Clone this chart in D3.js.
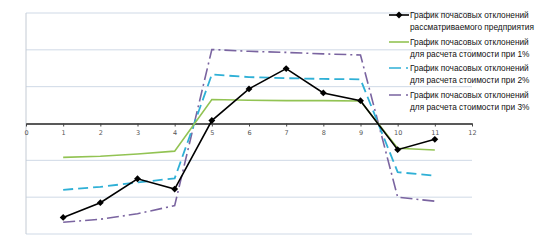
<!DOCTYPE html>
<html>
<head>
<meta charset="utf-8">
<script src="https://cdn.jsdelivr.net/npm/d3@7"></script>
<style>
  body { margin: 0; background: #fff; }
  svg { display: block; font-family: "Liberation Sans", Arial, sans-serif; }
</style>
</head>
<body>
<svg id="drawing_region"></svg>
<script>
// hours 1..11
const hours = [1, 2, 3, 4, 5, 6, 7, 8, 9, 10, 11];
const enterprise = [-2.55, -2.15, -1.5, -1.78, 0.08, 0.94, 1.49, 0.83, 0.62, -0.71, -0.43];
const cost1 = [-0.92, -0.89, -0.83, -0.75, 0.65, 0.63, 0.62, 0.62, 0.61, -0.67, -0.72];
const cost2 = [-1.8, -1.72, -1.6, -1.49, 1.33, 1.26, 1.23, 1.21, 1.2, -1.32, -1.42];
const cost3 = [-2.68, -2.6, -2.45, -2.23, 2.01, 1.96, 1.93, 1.89, 1.86, -2.0, -2.11];
const xTicks = [0, 1, 2, 3, 4, 5, 6, 7, 8, 9, 10, 11, 12];
const yTicks = [-3, -2, -1, 0, 1, 2, 3];
const seriesNames = [
    ["График почасовых отклонений", "рассматриваемого предприятия"],
    ["График почасовых отклонений", "для расчета стоимости при 1%"],
    ["График почасовых отклонений", "для расчета стоимости при 2%"],
    ["График почасовых отклонений", "для расчета стоимости при 3%"]
];

const config = {
    width: 542,
    height: 247,
    margin: {top: 13, right: 70, bottom: 13, left: 26}
};

const svg = d3.select('#drawing_region')
    .attr('width', config.width)
    .attr('height', config.height);

const chart = svg.append('g')
    .attr('transform', `translate(${config.margin.left}, ${config.margin.top})`);

const inner_width = 472 - config.margin.left;
const inner_height = 234 - config.margin.top;

const xscale = d3.scaleLinear().domain([0, 12]).range([0, inner_width]);
const yscale = d3.scaleLinear().domain([-3, 3]).range([inner_height, 0]);

// horizontal gridlines
chart.append('g')
    .selectAll('line')
    .data(yTicks.filter(d => d !== 0))
    .join('line')
    .attr('x1', 0)
    .attr('x2', inner_width)
    .attr('y1', d => yscale(d))
    .attr('y2', d => yscale(d))
    .attr('stroke', '#cfd9e6')
    .attr('stroke-width', 1);

// vertical axis line
chart.append('line')
    .attr('x1', 0).attr('x2', 0)
    .attr('y1', yscale(3)).attr('y2', yscale(-3))
    .attr('stroke', '#c4cbd4');

// x axis at zero
const xaxis = d3.axisBottom(xscale)
    .tickValues(xTicks)
    .tickSize(3)
    .tickSizeOuter(0)
    .tickPadding(4)
    .tickFormat(d3.format('d'));

const xaxis_group = chart.append('g')
    .attr('transform', `translate(0, ${yscale(0)})`)
    .call(xaxis);

xaxis_group.select('.domain').attr('stroke', '#222').attr('stroke-width', 1.3);
xaxis_group.selectAll('.tick line').attr('stroke', '#444');
xaxis_group.selectAll('.tick text')
    .attr('fill', '#555')
    .style('font-family', '"DejaVu Sans", sans-serif')
    .style('font-size', '6.5px');

const line = d3.line()
    .x((d, i) => xscale(hours[i]))
    .y(d => yscale(d));

const series = [
    {values: cost3, color: '#7a64a0', dash: '12,4,2,4', width: 1.6},
    {values: cost2, color: '#2fb0d6', dash: '10,5', width: 1.8},
    {values: cost1, color: '#92c353', dash: null, width: 1.6},
    {values: enterprise, color: '#000', dash: null, width: 1.6}
];

series.forEach(s => {
    chart.append('path')
        .datum(s.values)
        .attr('fill', 'none')
        .attr('stroke', s.color)
        .attr('stroke-width', s.width)
        .attr('stroke-dasharray', s.dash)
        .attr('d', line);
});

// diamond markers for enterprise
chart.selectAll('.marker')
    .data(enterprise)
    .join('path')
    .attr('class', 'marker')
    .attr('transform', (d, i) => `translate(${xscale(hours[i])}, ${yscale(d)})`)
    .attr('d', d3.symbol().type(d3.symbolDiamond2).size(30))
    .attr('fill', '#000');

// legend
const legendItems = [
    {color: '#000', dash: null, marker: true},
    {color: '#92c353', dash: null, marker: false},
    {color: '#2fb0d6', dash: '12,5,2,20', marker: false},
    {color: '#7a64a0', dash: '12,5,2,20', marker: false}
];
const legendY = [15, 42, 68, 95];

const legend = svg.append('g');
legendItems.forEach((item, i) => {
    const g = legend.append('g').attr('transform', `translate(0, ${legendY[i]})`);
    g.append('line')
        .attr('x1', 389).attr('x2', 409)
        .attr('y1', 0).attr('y2', 0)
        .attr('stroke', item.color)
        .attr('stroke-width', 1.6)
        .attr('stroke-dasharray', item.dash);
    if (item.marker) {
        g.append('path')
            .attr('transform', 'translate(399, 0)')
            .attr('d', d3.symbol().type(d3.symbolDiamond2).size(30))
            .attr('fill', '#000');
    }
    g.append('text')
        .attr('class', 'legend-text')
        .attr('x', 410)
        .attr('y', 3)
        .attr('fill', '#111')
        .text(seriesNames[i][0]);
    g.append('text')
        .attr('class', 'legend-text')
        .attr('x', 410)
        .attr('y', 15)
        .attr('fill', '#111')
        .text(seriesNames[i][1]);
});

// fit legend font so the first line spans about 119px
const probe = legend.select('.legend-text').style('font-size', '10px');
const w = probe.node().getComputedTextLength();
const fs = Math.min(10, 10 * 119 / w);
legend.selectAll('.legend-text').style('font-size', fs + 'px');
</script>
</body>
</html>
